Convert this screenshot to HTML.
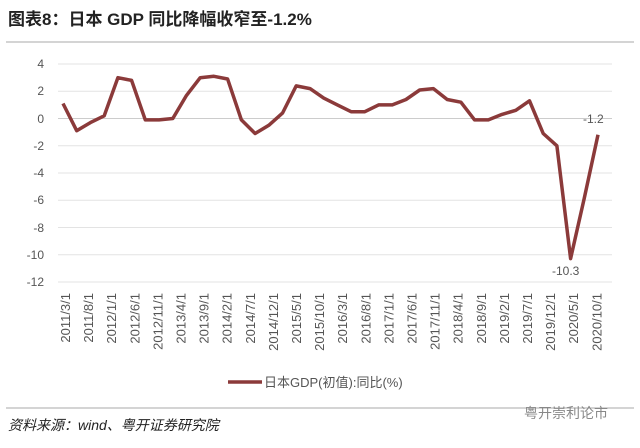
<!DOCTYPE html><html><head><meta charset="utf-8"><style>
body{margin:0;background:#fff;width:640px;height:443px;overflow:hidden;font-family:"Liberation Sans","Noto Sans CJK SC",sans-serif}
</style></head><body>
<svg width="640" height="443" xmlns="http://www.w3.org/2000/svg" font-family="Liberation Sans, Noto Sans CJK SC, sans-serif">
<text x="8" y="25" font-size="17" font-weight="bold" fill="#222">图表8：日本 GDP 同比降幅收窄至-1.2%</text>
<line x1="6" y1="42" x2="634" y2="42" stroke="#aaa"/>
<g stroke="#e3e3e3" stroke-width="1">
<line x1="58" y1="64" x2="612" y2="64"/><line x1="58" y1="91.3" x2="612" y2="91.3"/>
<line x1="58" y1="145.8" x2="612" y2="145.8"/><line x1="58" y1="173" x2="612" y2="173"/>
<line x1="58" y1="200.3" x2="612" y2="200.3"/><line x1="58" y1="227.5" x2="612" y2="227.5"/>
<line x1="58" y1="254.8" x2="612" y2="254.8"/><line x1="58" y1="282" x2="612" y2="282"/>
</g>
<line x1="58" y1="118.5" x2="612" y2="118.5" stroke="#ccc"/>
<g font-size="12" fill="#555" text-anchor="end">
<text x="44" y="68">4</text><text x="44" y="95">2</text><text x="44" y="123">0</text><text x="44" y="150">-2</text><text x="44" y="177">-4</text><text x="44" y="204">-6</text><text x="44" y="232">-8</text><text x="44" y="259">-10</text><text x="44" y="286">-12</text>
</g>
<polyline fill="none" stroke="#8b3a3a" stroke-width="3.5" stroke-linejoin="round" points="63,103.5 76.7,130.7 90.4,122.6 104.2,115.8 117.9,77.7 131.6,80.4 145.3,119.9 159,119.9 172.8,118.5 186.5,95.4 200.2,77.7 213.9,76.3 227.6,79 241.4,119.9 255.1,133.5 268.8,125.3 282.5,113.1 296.2,85.9 310,88.6 323.7,98.1 337.4,104.9 351.1,111.7 364.8,111.7 378.6,104.9 392.3,104.9 406,99.5 419.7,90 433.4,88.6 447.2,99.5 460.9,102.2 474.6,119.9 488.3,119.9 502,114.4 515.8,110.3 529.5,100.8 543.2,133.5 556.9,145.8 570.6,258.6 584.4,197.6 598,134.8"/>
<text x="583" y="123" font-size="12" fill="#555">-1.2</text>
<text x="552" y="275" font-size="12" fill="#555">-10.3</text>
<g font-size="13" fill="#555" text-anchor="end">
<text transform="translate(70,293) rotate(-90)">2011/3/1</text>
<text transform="translate(93.1,293) rotate(-90)">2011/8/1</text>
<text transform="translate(116.2,293) rotate(-90)">2012/1/1</text>
<text transform="translate(139.3,293) rotate(-90)">2012/6/1</text>
<text transform="translate(162.4,293) rotate(-90)">2012/11/1</text>
<text transform="translate(185.5,293) rotate(-90)">2013/4/1</text>
<text transform="translate(208.6,293) rotate(-90)">2013/9/1</text>
<text transform="translate(231.7,293) rotate(-90)">2014/2/1</text>
<text transform="translate(254.8,293) rotate(-90)">2014/7/1</text>
<text transform="translate(277.9,293) rotate(-90)">2014/12/1</text>
<text transform="translate(301,293) rotate(-90)">2015/5/1</text>
<text transform="translate(324.1,293) rotate(-90)">2015/10/1</text>
<text transform="translate(347.2,293) rotate(-90)">2016/3/1</text>
<text transform="translate(370.3,293) rotate(-90)">2016/8/1</text>
<text transform="translate(393.4,293) rotate(-90)">2017/1/1</text>
<text transform="translate(416.5,293) rotate(-90)">2017/6/1</text>
<text transform="translate(439.6,293) rotate(-90)">2017/11/1</text>
<text transform="translate(462.7,293) rotate(-90)">2018/4/1</text>
<text transform="translate(485.8,293) rotate(-90)">2018/9/1</text>
<text transform="translate(508.9,293) rotate(-90)">2019/2/1</text>
<text transform="translate(532,293) rotate(-90)">2019/7/1</text>
<text transform="translate(555.1,293) rotate(-90)">2019/12/1</text>
<text transform="translate(578.2,293) rotate(-90)">2020/5/1</text>
<text transform="translate(601.3,293) rotate(-90)">2020/10/1</text>
</g>
<line x1="228" y1="382" x2="262" y2="382" stroke="#8b3a3a" stroke-width="3.5"/>
<text x="264" y="387" font-size="13" fill="#555">日本GDP(初值):同比(%)</text>
<line x1="6" y1="408" x2="634" y2="408" stroke="#aaa"/>
<text x="8" y="430" font-size="14" font-style="italic" fill="#222">资料来源：wind、粤开证券研究院</text>
<text x="524" y="418" font-size="14" fill="#888">粤开崇利论市</text>
</svg>
</body></html>
